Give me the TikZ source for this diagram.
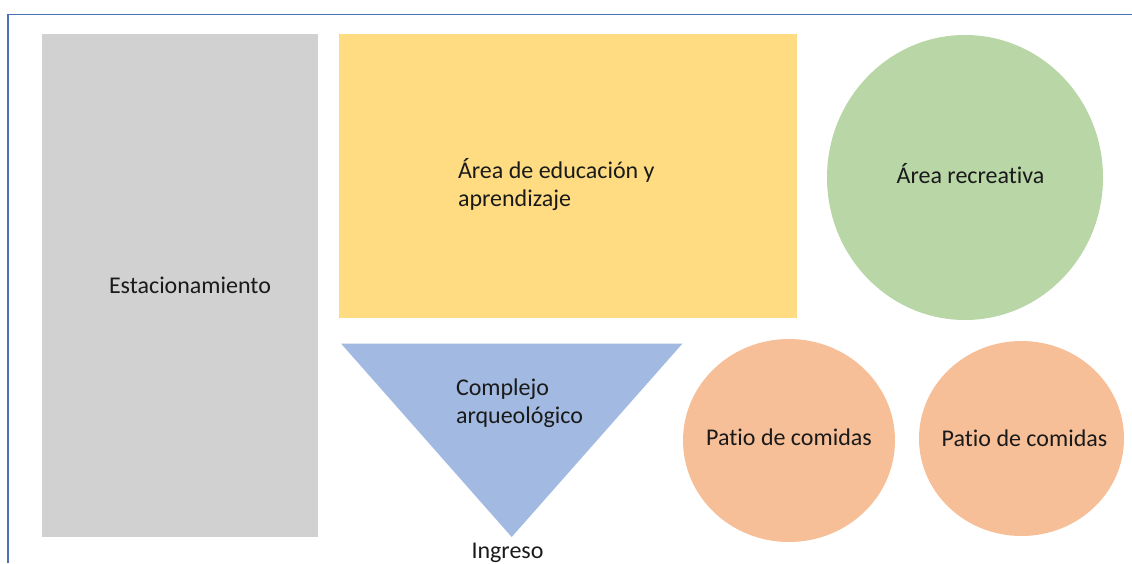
\documentclass[tikz,border=0pt]{standalone}
\usepackage{fontspec}
\setmainfont{Carlito}[Ligatures=NoCommon]
\definecolor{framec}{HTML}{4A72B8}
\definecolor{grayc}{HTML}{D1D1D1}
\definecolor{yelc}{HTML}{FFDC82}
\definecolor{grnc}{HTML}{B8D6A6}
\definecolor{bluc}{HTML}{A2B9E1}
\definecolor{orac}{HTML}{F6BF98}
\definecolor{txtc}{HTML}{1A1A1A}
\begin{document}
\begin{tikzpicture}[x=1pt,y=-1pt,
  lbl/.style={inner sep=0pt,outer sep=0pt,text=txtc,font=\fontsize{24}{28}\selectfont},
  lblL/.style={lbl,align=left,anchor=base west}]
\useasboundingbox (0,0) rectangle (1132,563);
% frame
\coordinate (f1) at (8,563);
\coordinate (f2) at (8,14.5);
\coordinate (f3) at (1132,14.5);
\draw[framec,line width=1.2pt] (f1) -- (f2) -- (f3);
% shapes
\fill[grayc] (42,34) rectangle (318,537);
\fill[yelc] (339,34) rectangle (797,318);
\fill[grnc] (965,177.5) ellipse [x radius=138, y radius=142.5];
\fill[bluc] (341,343.5) -- (682.5,343.5) -- (511.7,537) -- cycle;
\fill[orac] (789,440.5) ellipse [x radius=106, y radius=101.5];
\fill[orac] (1021.5,438.5) ellipse [x radius=102.5, y radius=97.5];
% labels
\node[lbl,anchor=base] (est) at (190,293) {Estacionamiento};
\node[lblL] (edu) at (458,206) {Área de educación y\\aprendizaje};
\node[lbl,anchor=base] (rec) at (970.5,183) {Área recreativa};
\node[lblL] (com) at (456,423) {Complejo\\arqueológico};
\node[lbl,anchor=base] (pat1) at (789,445) {Patio de comidas};
\node[lbl,anchor=base] (pat2) at (1024.5,446) {Patio de comidas};
\node[lbl,anchor=base] (ing) at (507.5,558) {Ingreso};
\end{tikzpicture}
\end{document}
